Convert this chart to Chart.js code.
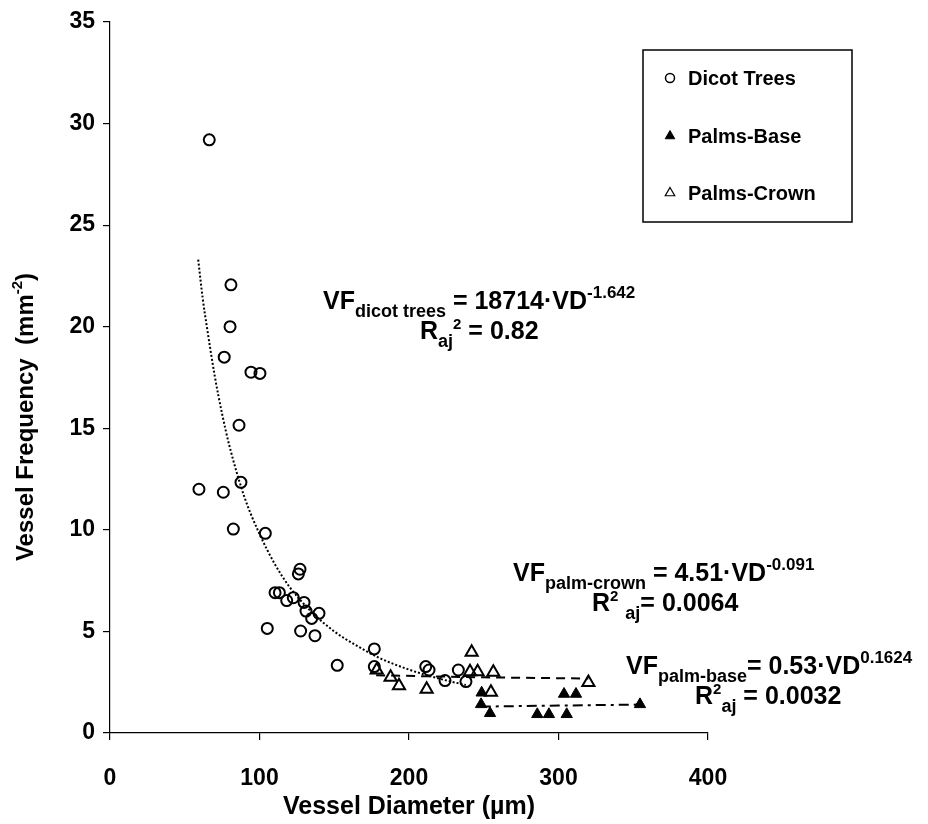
<!DOCTYPE html>
<html>
<head>
<meta charset="utf-8">
<script src="https://cdn.jsdelivr.net/npm/chart.js@4.4.0/dist/chart.umd.min.js"></script>
<style>
  html, body { margin: 0; padding: 0; background: #fff; }
</style>
</head>
<body>
<canvas id="chart" width="928" height="824"></canvas>
<script>
// data
var dicotX = [66.4, 80.9, 80.3, 76.4, 94.3, 100.3, 86.3, 87.6, 59.5, 75.8, 82.5, 103.9, 127.1, 126.0, 110.4, 113.3, 118.2, 122.6, 129.8, 131.1, 134.9, 139.8, 105.2, 127.5, 137.1, 152.0, 176.8, 176.8, 211.2, 213.4, 224.1, 233.0, 238.1];
var dicotY = [29.2, 22.06, 20.0, 18.5, 17.76, 17.7, 15.15, 12.34, 12.0, 11.85, 10.04, 9.83, 8.06, 7.83, 6.91, 6.91, 6.52, 6.66, 6.43, 6.0, 5.64, 5.89, 5.15, 5.02, 4.79, 3.33, 4.14, 3.27, 3.27, 3.1, 2.58, 3.1, 2.53];

var baseX = [248.6, 248.2, 254.2, 285.8, 293.6, 303.7, 311.7, 305.5, 354.5];
var baseY = [1.98, 1.41, 0.97, 0.92, 0.92, 1.92, 1.92, 0.92, 1.41];

var crownX = [178.4, 187.7, 193.3, 211.8, 240.8, 241.9, 245.9, 254.8, 256.4, 320.0];
var crownY = [3.1, 2.74, 2.33, 2.15, 3.02, 3.97, 3.02, 2.0, 2.99, 2.48];

// fitted lines as traced on the figure
var dicotFitX = [59, 62, 65, 70, 75, 80, 90, 100, 110, 120, 135, 150, 165, 180, 200, 220, 238];
var dicotFitY = [23.3, 21.4, 19.9, 17.6, 15.7, 14.1, 11.6, 9.8, 8.35, 7.2, 5.95, 5.0, 4.3, 3.7, 3.12, 2.68, 2.36];
var crownFitX = [178, 250, 320];
var crownFitY = [2.84, 2.74, 2.68];
var baseFitX = [248, 300, 355];
var baseFitY = [1.30, 1.35, 1.40];

var xTicks = [0, 100, 200, 300, 400];
var yTicks = [0, 5, 10, 15, 20, 25, 30, 35];

var legendNames = ['Dicot Trees', 'Palms-Base', 'Palms-Crown'];

function toPoints(xs, ys) {
    return xs.map(function(x, i) { return {x: x, y: ys[i]}; });
}

var FONT = '"Liberation Sans", Arial, sans-serif';

// draw a line of text made of pieces: [text, size, shift]
function drawPieces(ctx, x, y, pieces) {
    pieces.forEach(function(p) {
        ctx.font = 'bold ' + p[1] + 'px ' + FONT;
        ctx.fillText(p[0], x, y + (p[2] || 0));
        x += ctx.measureText(p[0]).width;
    });
}

var equations = [
    {x: 323, y: 309, pieces: [['VF', 25], ['dicot trees', 18, 8], [' = 18714\u00B7VD', 25], ['-1.642', 17, -11]]},
    {x: 420, y: 339, pieces: [['R', 25], ['aj', 18, 8], ['2', 15, -10], [' = 0.82', 25]]},
    {x: 513, y: 581, pieces: [['VF', 25], ['palm-crown', 18, 8], [' = 4.51\u00B7VD', 25], ['-0.091', 17, -11]]},
    {x: 592, y: 611, pieces: [['R', 25], ['2', 15, -10], [' ', 25], ['aj', 18, 8], ['= 0.0064', 25]]},
    {x: 626, y: 674, pieces: [['VF', 25], ['palm-base', 18, 8], ['= 0.53\u00B7VD', 25], ['0.1624', 17, -11]]},
    {x: 695, y: 704, pieces: [['R', 25], ['2', 15, -10], ['aj', 18, 8], [' = 0.0032', 25]]}
];

var extras = {
    id: 'extras',
    afterDraw: function(chart) {
        var ctx = chart.ctx;
        ctx.save();
        ctx.fillStyle = '#000';
        ctx.textBaseline = 'alphabetic';
        ctx.textAlign = 'left';
        equations.forEach(function(e) { drawPieces(ctx, e.x, e.y, e.pieces); });

        // axis titles
        ctx.save();
        ctx.translate(33, 417);
        ctx.rotate(-Math.PI / 2);
        var parts = [['Vessel Frequency  (mm', 24], ['-2', 15, -11], [')', 24]];
        var w = 0;
        parts.forEach(function(p) { ctx.font = 'bold ' + p[1] + 'px ' + FONT; w += ctx.measureText(p[0]).width; });
        drawPieces(ctx, -w / 2, 0, parts);
        ctx.restore();

        ctx.font = 'bold 25px ' + FONT;
        ctx.textAlign = 'center';
        ctx.fillText('Vessel Diameter (\u00B5m)', 409, 814);

        // legend box
        ctx.lineWidth = 1.5;
        ctx.strokeStyle = '#000';
        ctx.strokeRect(643, 50, 209, 172);
        ctx.textAlign = 'left';
        ctx.textBaseline = 'middle';
        ctx.font = 'bold 20px ' + FONT;
        var rows = [78, 136, 193];
        var styles = [
            {pointStyle: 'circle', radius: 4.5, borderWidth: 1.5, fill: false},
            {pointStyle: 'triangle', radius: 5.5, borderWidth: 1, fill: true},
            {pointStyle: 'triangle', radius: 5.5, borderWidth: 1.2, fill: false}
        ];
        legendNames.forEach(function(name, i) {
            var s = styles[i];
            ctx.fillStyle = s.fill ? '#000' : 'rgba(0,0,0,0)';
            ctx.strokeStyle = '#000';
            ctx.lineWidth = s.borderWidth;
            Chart.helpers.drawPoint(ctx, {pointStyle: s.pointStyle, radius: s.radius, borderWidth: s.borderWidth, rotation: 0}, 670, rows[i]);
            ctx.fillStyle = '#000';
            ctx.fillText(name, 688, rows[i] + 1);
        });
        ctx.restore();
    }
};

var ctx = document.getElementById('chart').getContext('2d');
var chart = new Chart(ctx, {
    type: 'scatter',
    data: {
        datasets: [
            {
                label: legendNames[0],
                data: toPoints(dicotX, dicotY),
                pointStyle: 'circle',
                pointRadius: 5.5,
                borderColor: '#000',
                backgroundColor: 'rgba(0,0,0,0)',
                borderWidth: 2
            },
            {
                label: legendNames[1],
                data: toPoints(baseX, baseY),
                pointStyle: 'triangle',
                pointRadius: 6.5,
                borderColor: '#000',
                backgroundColor: '#000',
                borderWidth: 1
            },
            {
                label: legendNames[2],
                data: toPoints(crownX, crownY),
                pointStyle: 'triangle',
                pointRadius: 7,
                borderColor: '#000',
                backgroundColor: 'rgba(0,0,0,0)',
                borderWidth: 2
            },
            {
                label: 'dicot fit',
                type: 'line',
                data: toPoints(dicotFitX, dicotFitY),
                showLine: true,
                pointRadius: 0,
                borderColor: '#000',
                borderWidth: 2,
                borderDash: [2, 2],
                cubicInterpolationMode: 'monotone',
                fill: false
            },
            {
                label: 'crown fit',
                type: 'line',
                data: toPoints(crownFitX, crownFitY),
                showLine: true,
                pointRadius: 0,
                borderColor: '#000',
                borderWidth: 2,
                borderDash: [9, 6],
                fill: false
            },
            {
                label: 'base fit',
                type: 'line',
                data: toPoints(baseFitX, baseFitY),
                showLine: true,
                pointRadius: 0,
                borderColor: '#000',
                borderWidth: 2,
                borderDash: [10, 5, 3, 5],
                fill: false
            }
        ]
    },
    options: {
        responsive: false,
        animation: false,
        layout: { padding: { top: 22, right: 220, left: 0, bottom: 0 } },
        plugins: {
            legend: { display: false },
            tooltip: { enabled: false }
        },
        scales: {
            x: {
                type: 'linear',
                min: 0,
                max: 400,
                afterFit: function(scale) { scale.height = 91; },
                afterBuildTicks: function(scale) { scale.ticks = xTicks.map(function(v) { return {value: v}; }); },
                ticks: {
                    color: '#000',
                    padding: 25,
                    font: { family: FONT, size: 23, weight: 'bold' }
                },
                grid: { drawOnChartArea: false, drawTicks: true, tickLength: 7, color: '#000', lineWidth: 1.2 },
                border: { color: '#000', width: 1.2 }
            },
            y: {
                type: 'linear',
                min: 0,
                max: 35,
                afterFit: function(scale) { scale.width = 110; },
                afterBuildTicks: function(scale) { scale.ticks = yTicks.map(function(v) { return {value: v}; }); },
                ticks: {
                    color: '#000',
                    padding: 8,
                    font: { family: FONT, size: 23, weight: 'bold' }
                },
                grid: { drawOnChartArea: false, drawTicks: true, tickLength: 7, color: '#000', lineWidth: 1.2 },
                border: { color: '#000', width: 1.2 }
            }
        }
    },
    plugins: [extras]
});
</script>
</body>
</html>
